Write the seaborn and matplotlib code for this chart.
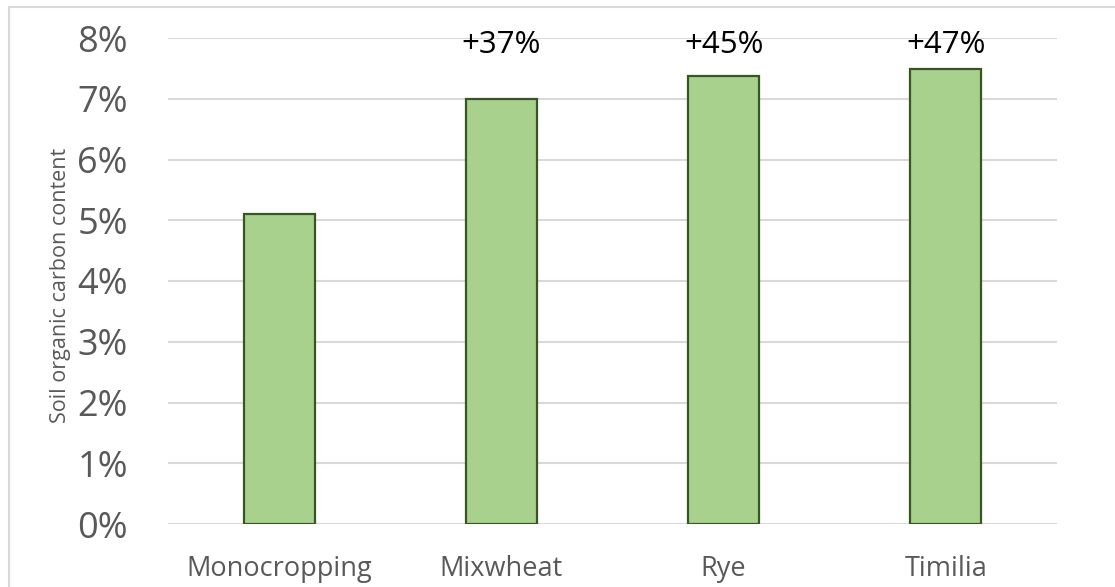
import matplotlib
matplotlib.use("Agg")
import matplotlib.pyplot as plt
import seaborn as sns
import pandas as pd
from matplotlib.patches import Rectangle
from matplotlib.ticker import FuncFormatter

categories = ["Monocropping", "Mixwheat", "Rye", "Timilia"]
values = [5.10, 7.0, 7.38, 7.49]
annotations = ["", "+37%", "+45%", "+47%"]
yticks = [0, 1, 2, 3, 4, 5, 6, 7, 8]

sns.set_theme(style="white")
plt.rcParams["font.family"] = ["Open Sans", "DejaVu Sans"]

df = pd.DataFrame({"cat": categories, "val": values})

fig = plt.figure(figsize=(11.15, 5.87), dpi=100)
ax = fig.add_axes([168/1115, 1-524/587, (1057-168)/1115, (524-38)/587])

sns.barplot(data=df, x="cat", y="val", ax=ax, color="#a9d18e", width=0.32,
            edgecolor="#375623", linewidth=1.6, saturation=1, zorder=3)

ax.set_xlim(-0.5, 3.5)
ax.set_ylim(0, 8)
ax.set_yticks(yticks)
ax.yaxis.set_major_formatter(FuncFormatter(lambda v, p: f"{int(v)}%"))
ax.grid(axis="y", color="#d9d9d9", linewidth=1.5, zorder=0)
ax.set_axisbelow(True)
for s in ax.spines.values():
    s.set_visible(False)
ax.tick_params(axis="y", labelsize=26, labelcolor="#595959", pad=29, length=0)
ax.tick_params(axis="x", labelsize=19.5, labelcolor="#595959", pad=22, length=0)
ax.set_xlabel("")
ax.set_ylabel("Soil organic carbon content", fontsize=15.5, color="#595959")
ax.yaxis.set_label_coords(-(168-71)/889, 0.49)

for i, (v, t) in enumerate(zip(values, annotations)):
    if t:
        ax.text(i, 7.88, t, ha="center", va="center", fontsize=22.5, color="black")

fig.patches.append(Rectangle((9/1115, -0.1), 1.2, 1 - 7/587 + 0.1, transform=fig.transFigure,
                             fill=False, edgecolor="#d9d9d9", linewidth=1.5))

fig.savefig("out.png", dpi=100)
